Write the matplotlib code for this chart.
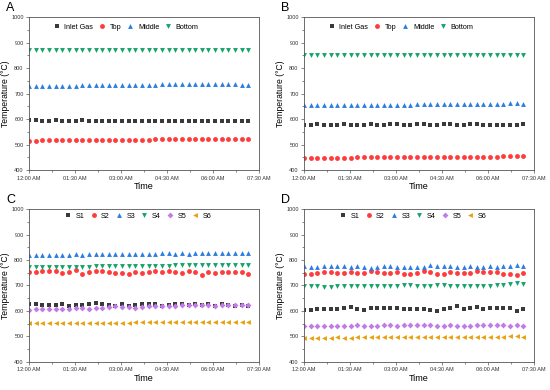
import numpy as np
import matplotlib.pyplot as plt
from matplotlib.ticker import MultipleLocator

plt.rcParams['font.family'] = ['Liberation Sans', 'DejaVu Sans']

# time of each reading, minutes after midnight (34 readings)
minutes = [0, 13, 26, 39, 52, 65, 78, 91, 104, 117, 130, 143, 156, 169, 182, 195, 208,
           221, 234, 247, 260, 273, 286, 299, 312, 325, 338, 351, 364, 377, 390, 403, 416, 429]
tick_hours = [0, 1.5, 3, 4.5, 6, 7.5]
tick_labels = ['12:00 AM', '01:30 AM', '03:00 AM', '04:30 AM', '06:00 AM', '07:30 AM']

# Panel A
a_inlet = [595, 595, 594, 594, 595, 594, 594, 594, 595, 594, 594, 593, 592, 594, 594, 594,
           594, 594, 594, 594, 594, 593, 594, 594, 594, 592, 591, 593, 592, 592, 592, 593, 594, 591]
a_top = [515, 515, 516, 516, 516, 517, 517, 517, 517, 518, 518, 518, 519, 519, 519, 519,
         519, 519, 519, 520, 520, 520, 520, 520, 520, 521, 521, 521, 520, 521, 521, 521, 520, 520]
a_middle = [730, 730, 730, 731, 731, 731, 731, 731, 732, 732, 733, 733, 733, 734, 734, 734,
            735, 735, 735, 735, 736, 736, 736, 736, 736, 736, 737, 737, 737, 737, 737, 736, 734, 733]
a_bottom = [870] * 34

# Panel B
b_inlet = [577, 578, 579, 578, 576, 576, 579, 578, 577, 576, 580, 578, 576, 579, 579, 577,
           576, 579, 580, 577, 576, 579, 580, 577, 576, 579, 580, 578, 575, 576, 578, 577, 576, 579]
b_top = [448, 448, 448, 448, 449, 449, 449, 449, 450, 450, 450, 450, 450, 450, 450, 450,
         451, 451, 451, 451, 452, 452, 452, 452, 452, 453, 453, 453, 453, 453, 454, 454, 455, 455]
b_middle = [655, 655, 655, 655, 655, 655, 656, 656, 656, 656, 656, 657, 657, 657, 657, 657,
            657, 658, 658, 658, 658, 658, 659, 659, 659, 659, 659, 660, 660, 660, 660, 662, 662, 661]
b_bottom = [850] * 34

# Panel C
c_s1 = [627, 626, 625, 624, 624, 628, 619, 624, 625, 627, 631, 628, 624, 619, 626, 618,
        624, 628, 627, 628, 619, 624, 626, 628, 625, 627, 622, 626, 619, 629, 625, 621, 623, 621]
c_s2 = [754, 752, 757, 758, 758, 750, 752, 760, 745, 752, 755, 756, 751, 750, 748, 747,
        754, 749, 752, 755, 752, 755, 751, 749, 757, 752, 741, 752, 750, 752, 753, 751, 752, 746]
c_s3 = [820, 820, 821, 820, 821, 821, 821, 822, 821, 822, 822, 823, 823, 823, 824, 824,
        824, 823, 824, 825, 826, 826, 825, 827, 825, 826, 826, 827, 827, 828, 827, 827, 827, 827]
c_s4 = [773, 773, 773, 772, 772, 773, 772, 772, 774, 774, 775, 776, 776, 776, 777, 777,
        777, 777, 778, 778, 778, 778, 779, 779, 779, 780, 779, 780, 780, 782, 782, 781, 781, 781]
c_s5 = [605, 606, 607, 606, 608, 609, 607, 610, 612, 608, 612, 613, 615, 618, 614, 615,
        613, 617, 618, 620, 620, 621, 621, 622, 622, 622, 622, 622, 619, 622, 624, 624, 625, 625]
c_s6 = [552, 552, 552, 552, 553, 553, 553, 553, 553, 553, 554, 554, 554, 554, 554, 554,
        555, 555, 555, 555, 555, 555, 555, 555, 556, 556, 556, 556, 556, 556, 556, 557, 557, 557]

# Panel D
d_s1 = [605, 605, 606, 606, 607, 608, 613, 617, 606, 603, 613, 610, 611, 612, 610, 608,
        609, 608, 607, 605, 598, 608, 613, 618, 608, 612, 614, 608, 610, 611, 612, 611, 601, 608]
d_s2 = [747, 747, 750, 752, 753, 750, 750, 751, 749, 750, 757, 752, 750, 750, 752, 745,
        747, 748, 755, 752, 746, 747, 751, 750, 749, 749, 756, 752, 753, 751, 747, 747, 743, 750]
d_s3 = [775, 773, 774, 775, 775, 776, 776, 772, 775, 773, 770, 772, 777, 778, 774, 774,
        774, 774, 774, 779, 778, 775, 775, 774, 774, 775, 773, 774, 775, 774, 777, 778, 779, 778]
d_s4 = [697, 696, 696, 695, 695, 696, 697, 696, 699, 696, 697, 699, 699, 699, 699, 700,
        700, 699, 699, 698, 700, 700, 698, 697, 698, 697, 696, 697, 699, 700, 703, 705, 708, 704]
d_s5 = [540, 540, 541, 541, 542, 542, 542, 541, 543, 541, 541, 542, 544, 543, 542, 543,
        543, 543, 543, 543, 542, 542, 543, 542, 541, 540, 543, 543, 544, 544, 543, 542, 543, 542]
d_s6 = [495, 494, 495, 495, 495, 496, 495, 495, 497, 496, 496, 497, 497, 497, 498, 499,
        498, 498, 498, 499, 499, 499, 498, 498, 498, 498, 498, 499, 499, 499, 499, 500, 501, 499]

black = '#3a3a3a'
red = '#ff3b3b'
blue = '#2a7de1'
green = '#14a36a'
purple = '#c27ae6'
orange = '#e8a10c'

hours = np.array(minutes) / 60.0

fig = plt.figure(figsize=(5.5, 3.9), dpi=100)
boxes = {'A': [0.053, 0.564, 0.418, 0.392],
         'B': [0.553, 0.564, 0.418, 0.392],
         'C': [0.053, 0.072, 0.418, 0.392],
         'D': [0.553, 0.072, 0.418, 0.392]}

panels = {
    'A': [(a_inlet, 'Inlet Gas', 's', black), (a_top, 'Top', 'o', red),
          (a_middle, 'Middle', '^', blue), (a_bottom, 'Bottom', 'v', green)],
    'B': [(b_inlet, 'Inlet Gas', 's', black), (b_top, 'Top', 'o', red),
          (b_middle, 'Middle', '^', blue), (b_bottom, 'Bottom', 'v', green)],
    'C': [(c_s1, 'S1', 's', black), (c_s2, 'S2', 'o', red), (c_s3, 'S3', '^', blue),
          (c_s4, 'S4', 'v', green), (c_s5, 'S5', 'D', purple), (c_s6, 'S6', '<', orange)],
    'D': [(d_s1, 'S1', 's', black), (d_s2, 'S2', 'o', red), (d_s3, 'S3', '^', blue),
          (d_s4, 'S4', 'v', green), (d_s5, 'S5', 'D', purple), (d_s6, 'S6', '<', orange)],
}

for name, series in panels.items():
    ax = fig.add_axes(boxes[name])
    for vals, lab, mk, col in series:
        ms = 3.0 if mk == 'D' else 3.5
        ax.plot(hours, vals, linestyle='none', marker=mk, color=col, markersize=ms,
                markeredgewidth=0, label=lab)
    ax.set_xlim(0, 7.5)
    ax.set_ylim(400, 1000)
    ax.set_xticks(tick_hours)
    ax.set_xticklabels(tick_labels)
    ax.xaxis.set_minor_locator(MultipleLocator(0.75))
    ax.yaxis.set_major_locator(MultipleLocator(100))
    ax.yaxis.set_minor_locator(MultipleLocator(50))
    ax.tick_params(which='major', labelsize=4, length=2.5, width=0.5, pad=1.5,
                   color='#555555', labelcolor='#333333')
    ax.tick_params(which='minor', length=1.5, width=0.5, color='#555555')
    for sp in ax.spines.values():
        sp.set_linewidth(0.6)
        sp.set_color('#555555')
    ax.set_xlabel('Time', fontsize=6.5, labelpad=1)
    ax.set_ylabel('Temperature (°C)', fontsize=6.2, labelpad=1)
    if len(series) == 4:
        anchor, colsp = (0.08, 1.0), 0.9
    else:
        anchor, colsp = (0.13, 1.02), 0.9
    ax.legend(loc='upper left', bbox_to_anchor=anchor, ncol=len(series), frameon=False,
              fontsize=5.2, handlelength=0.7, handletextpad=0.7, columnspacing=colsp,
              markerscale=1.0, borderaxespad=0.5)
    ax.text(-0.1, 1.02, name, transform=ax.transAxes, fontsize=9, ha='left', va='bottom')

fig.savefig('out.png', dpi=100)
